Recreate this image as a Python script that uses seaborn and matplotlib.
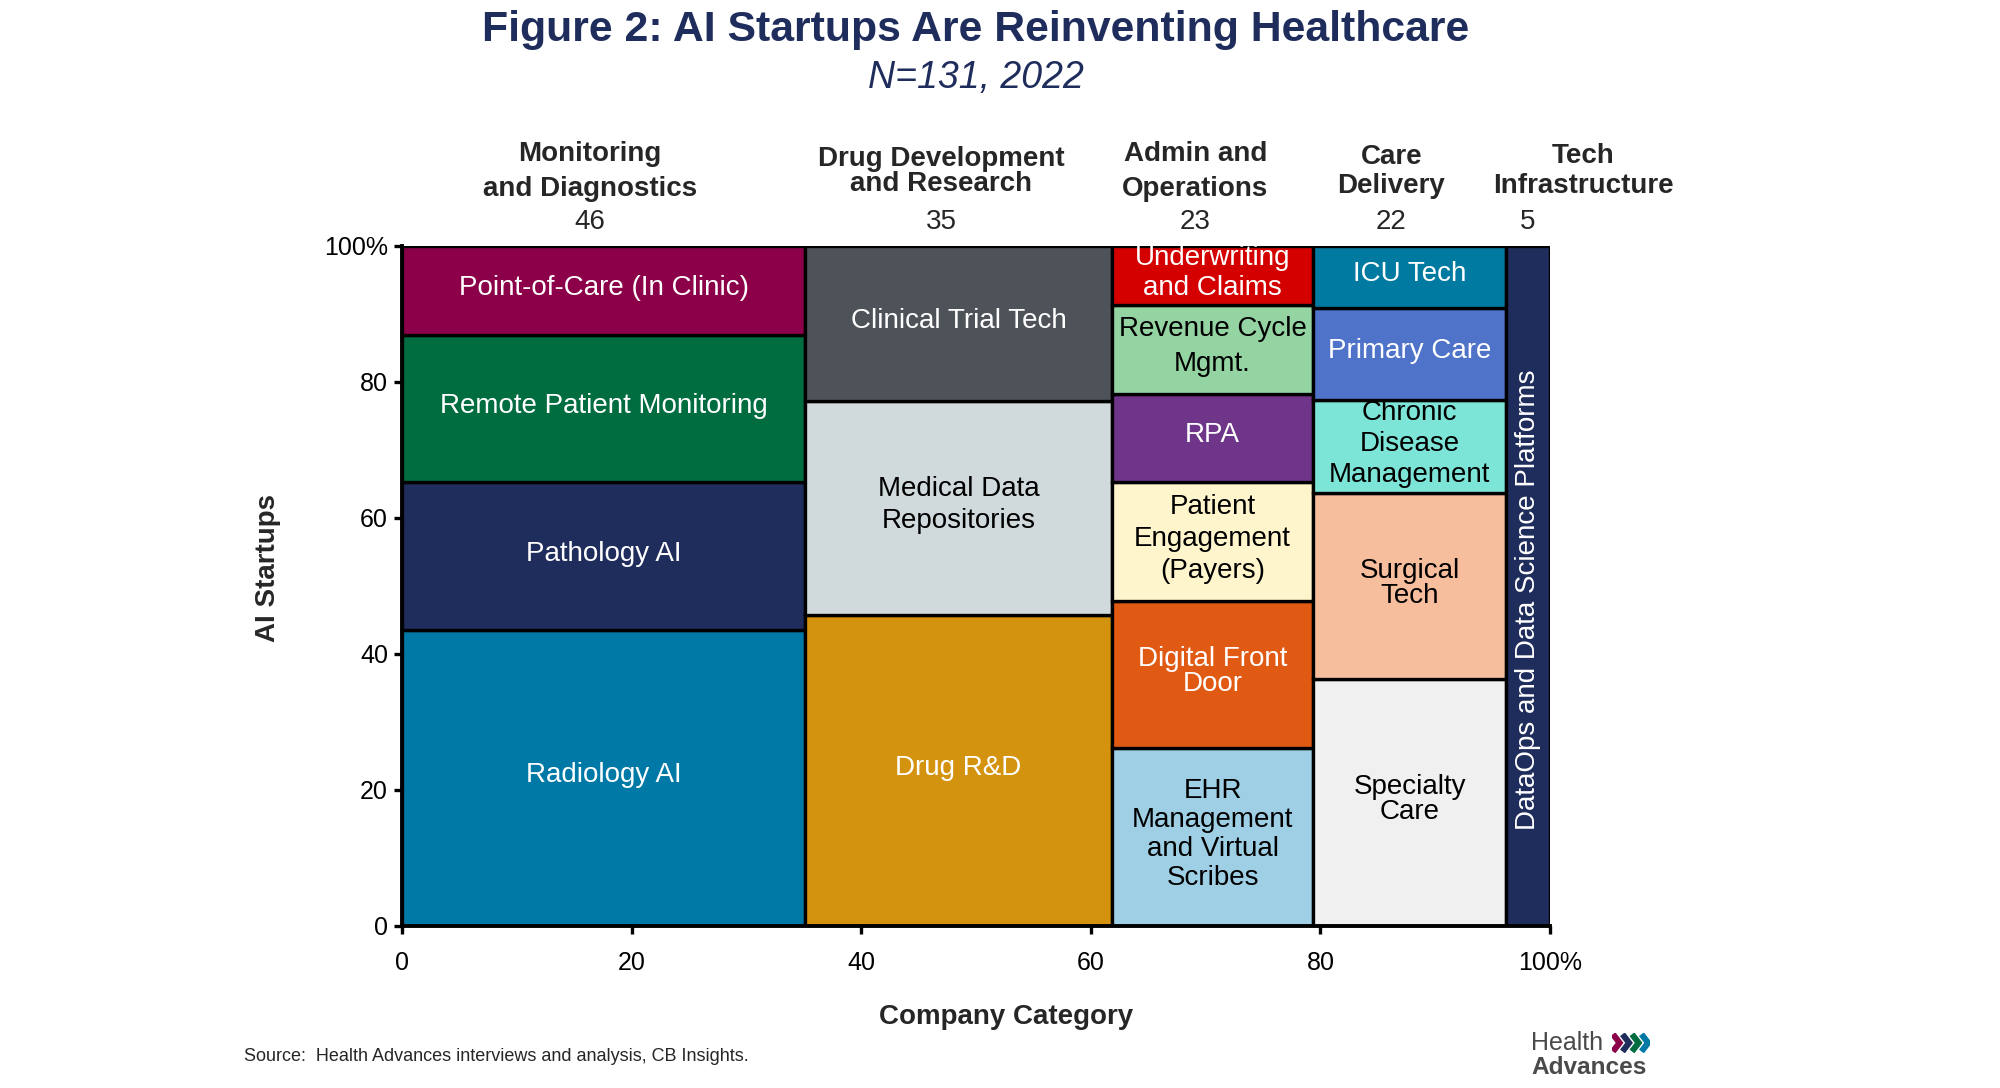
import matplotlib.pyplot as plt
import seaborn as sns
import numpy as np

sns.set_style("ticks")
plt.rcParams['font.family'] = ['Liberation Sans', 'DejaVu Sans']

# Column categories and number of startups in each
groups = ["Monitoring\nand Diagnostics", "Drug Development\nand Research",
          "Admin and\nOperations", "Care\nDelivery", "Tech\nInfrastructure"]
group_counts = [46, 35, 23, 22, 5]

# Sub-segments, bottom to top
monitoring_names = ["Radiology AI", "Pathology AI", "Remote Patient Monitoring",
                    "Point-of-Care (In Clinic)"]
monitoring_counts = [20, 10, 10, 6]
drug_names = ["Drug R&D", "Medical Data\nRepositories", "Clinical Trial Tech"]
drug_counts = [16, 11, 8]
admin_names = ["EHR\nManagement\nand Virtual\nScribes", "Digital Front\nDoor",
               "Patient\nEngagement\n(Payers)", "RPA", "Revenue Cycle\nMgmt.",
               "Underwriting\nand Claims"]
admin_counts = [6, 5, 4, 3, 3, 2]
care_names = ["Specialty\nCare", "Surgical\nTech", "Chronic\nDisease\nManagement",
              "Primary Care", "ICU Tech"]
care_counts = [8, 6, 3, 3, 2]
tech_names = ["DataOps and Data Science Platforms"]
tech_counts = [5]

segment_names = [monitoring_names, drug_names, admin_names, care_names, tech_names]
segment_counts = [monitoring_counts, drug_counts, admin_counts, care_counts, tech_counts]

segment_colors = [
    ["#0079a6", "#1f2d5c", "#006d40", "#8b0048"],
    ["#d4930e", "#d0d9dc", "#4d5358"],
    ["#9ecfe5", "#e05a14", "#fff5cc", "#6e3589", "#94d3a2", "#d40000"],
    ["#f0f0f0", "#f7be9e", "#7de5d8", "#4f73c8", "#007aa0"],
    ["#1f2d5c"],
]
dark_text = {"Medical Data\nRepositories", "EHR\nManagement\nand Virtual\nScribes",
             "Patient\nEngagement\n(Payers)", "Revenue Cycle\nMgmt.",
             "Specialty\nCare", "Surgical\nTech", "Chronic\nDisease\nManagement"}
# line spacing per label / header (default used otherwise)
label_spacing = {"Digital Front\nDoor": 0.95, "Specialty\nCare": 0.95,
                 "Surgical\nTech": 0.95, "Revenue Cycle\nMgmt.": 1.45,
                 "EHR\nManagement\nand Virtual\nScribes": 1.15,
                 "Chronic\nDisease\nManagement": 1.25,
                 "Underwriting\nand Claims": 1.2}
header_spacing = [1.45, 0.95, 1.45, 1.15, 1.2]

navy = "#1f2d5c"

fig = plt.figure(figsize=(10, 5.44), dpi=200)
ax = fig.add_axes([0.201, 0.149, 0.574, 0.625])

total = sum(group_counts)
widths = np.array(group_counts) / total * 100
lefts = np.concatenate([[0], np.cumsum(widths)[:-1]])

for gi, group in enumerate(groups):
    counts = np.array(segment_counts[gi])
    heights = counts / counts.sum() * 100
    bottoms = np.concatenate([[0], np.cumsum(heights)[:-1]])
    ax.bar(lefts[gi], heights, width=widths[gi], bottom=bottoms, align='edge',
           color=segment_colors[gi], edgecolor='black', linewidth=1.2, zorder=2)
    cx = lefts[gi] + widths[gi] / 2
    for name, h, b in zip(segment_names[gi], heights, bottoms):
        col = 'black' if name in dark_text else 'white'
        if gi == 4:
            ax.text(cx, 48, name, rotation=90, ha='center', va='center',
                    color=col, fontsize=10)
            continue
        ls = label_spacing.get(name, 1.3)
        ax.text(cx, b + h / 2 + 0.4, name, ha='center', va='center', color=col,
                fontsize=10, linespacing=ls)

# Column headers and counts
header_shift = [-1.2, -1.5, -1.5, -1.6, 4.8]
for gi, group in enumerate(groups):
    cx = lefts[gi] + widths[gi] / 2
    ax.text(cx + header_shift[gi], 111.0, group, ha='center', va='center',
            fontweight='bold', fontsize=10, linespacing=header_spacing[gi],
            clip_on=False)
    ax.text(cx + (header_shift[gi] if gi < 4 else 0), 103.5, str(group_counts[gi]),
            ha='center', va='center', fontsize=10, clip_on=False)

ax.set_xlim(0, 100)
ax.set_ylim(0, 100)
ax.set_xticks([0, 20, 40, 60, 80, 100])
ax.set_xticklabels(["0", "20", "40", "60", "80", "100%"])
ax.set_yticks([0, 20, 40, 60, 80, 100])
ax.set_yticklabels(["0", "20", "40", "60", "80", "100%"])
ax.tick_params(axis='both', labelsize=9, length=3, width=1.2, color='black',
               labelcolor='black')
ax.tick_params(axis='x', pad=6)
ax.tick_params(axis='y', pad=2)
sns.despine(ax=ax)
for s in ['left', 'bottom']:
    ax.spines[s].set_linewidth(1.4)
    ax.spines[s].set_color('black')

fig.text(0.488, 0.972, "Figure 2: AI Startups Are Reinventing Healthcare",
         ha='center', va='center', fontsize=15.4, fontweight='bold', color=navy)
fig.text(0.488, 0.928, "N=131, 2022", ha='center', va='center', fontsize=13.5,
         fontstyle='italic', color=navy)
fig.text(0.503, 0.065, "Company Category", ha='center', va='center',
         fontsize=10, fontweight='bold')
fig.text(0.134, 0.478, "AI Startups", ha='center', va='center', rotation=90,
         fontsize=10, fontweight='bold')
fig.text(0.122, 0.029, "Source:  Health Advances interviews and analysis, CB Insights.",
         ha='left', va='center', fontsize=6.5)

# Logo
fig.text(0.7655, 0.041, "Health", ha='left', va='center', fontsize=9, color='#4a4a4a')
fig.text(0.7655, 0.019, "Advances", ha='left', va='center', fontsize=8.8,
         fontweight='bold', color='#4a4a4a')
logo = fig.add_axes([0.806, 0.032, 0.019, 0.019])
for i, c in enumerate(["#8b0048", "#1f2d5c", "#006d40", "#0079a6"]):
    logo.plot([i, i + 0.7, i], [0, 0.5, 1], color=c, linewidth=2.2,
              solid_capstyle='butt', solid_joinstyle='miter')
logo.set_xlim(-0.1, 3.9)
logo.set_ylim(-0.1, 1.1)
logo.axis('off')

fig.savefig("out.png", dpi=200)
